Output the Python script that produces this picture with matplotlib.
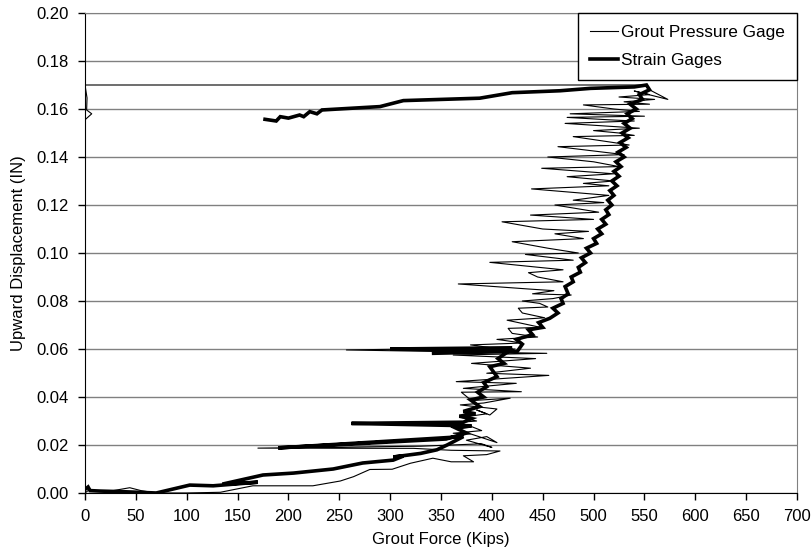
import matplotlib
matplotlib.use("Agg")
import matplotlib.pyplot as plt

plt.rcParams['font.family'] = ['Liberation Sans', 'DejaVu Sans']

# Grout pressure gage trace (force in kips, displacement in inches)
gage_force = [0, 3, 10, 25, 44, 55, 70, 100, 133, 165, 224, 251, 264, 280, 302,
              320, 342, 360, 382, 372, 395, 408, 360, 323, 170, 330, 390, 400,
              375, 395, 405, 380, 362, 390, 378, 355, 385, 370, 395, 385, 398,
              405, 369, 392, 418, 380, 370, 429, 372, 424, 365, 456, 395, 438,
              380, 443, 362, 454, 257, 400, 379, 430, 405, 445, 420, 416, 448,
              415, 452, 430, 426, 455, 447, 430, 460, 478, 440, 461, 436, 367,
              470, 445, 436, 470, 398, 480, 433, 485, 455, 420, 490, 462, 495,
              450, 410, 500, 438, 505, 462, 510, 480, 515, 439, 515, 490, 520,
              474, 520, 449, 525, 500, 455, 530, 510, 465, 535, 520, 480, 540,
              525, 500, 545, 472, 540, 515, 474, 550, 477, 545, 520, 490, 555,
              530, 560, 525, 555, 540, 573, 555, 550, 0, 2, 1.6, 6.6, 0]
gage_disp = [0.000, 0.001, 0.0008, 0.0008, 0.0022, 0.001, 0.0, 0.0, 0.0003,
             0.003, 0.003, 0.005, 0.0068, 0.0098, 0.0099, 0.0124, 0.0145, 0.013,
             0.013, 0.0155, 0.016, 0.0175, 0.0178, 0.0186, 0.0187, 0.0195,
             0.0205, 0.019, 0.022, 0.0235, 0.021, 0.0245, 0.0249, 0.026, 0.028,
             0.029, 0.030, 0.0315, 0.033, 0.0346, 0.0325, 0.035, 0.0367, 0.0375,
             0.0395, 0.0385, 0.042, 0.0422, 0.0436, 0.0457, 0.0464, 0.049,
             0.0499, 0.052, 0.054, 0.056, 0.0575, 0.0582, 0.0596, 0.0605, 0.0617,
             0.0625, 0.064, 0.065, 0.0665, 0.0686, 0.069, 0.072, 0.073, 0.075,
             0.077, 0.0775, 0.079, 0.080, 0.081, 0.0825, 0.083, 0.0843, 0.085,
             0.0871, 0.088, 0.090, 0.0918, 0.093, 0.0961, 0.097, 0.0994, 0.100,
             0.102, 0.1047, 0.106, 0.108, 0.109, 0.110, 0.113, 0.114, 0.1158,
             0.117, 0.120, 0.121, 0.122, 0.124, 0.1267, 0.128, 0.129, 0.130,
             0.1318, 0.133, 0.1353, 0.136, 0.138, 0.140, 0.141, 0.142, 0.1443,
             0.145, 0.146, 0.1485, 0.149, 0.150, 0.151, 0.152, 0.154, 0.155,
             0.1555, 0.1565, 0.157, 0.158, 0.159, 0.160, 0.1617, 0.162, 0.163,
             0.164, 0.165, 0.166, 0.1675, 0.164, 0.168, 0.170, 0.170, 0.1646,
             0.1596, 0.158, 0.1555]

# Strain gage trace
strain_force = [0, 3, 5, 15, 40, 70, 103, 126, 170, 135, 175, 205, 244, 273, 303,
                313, 303, 330, 346, 356, 372, 190, 355, 375, 365, 380, 262, 372,
                380, 368, 384, 372, 388, 379, 392, 386, 395, 392, 405, 398, 412,
                406, 418, 300, 420, 341, 425, 430, 424, 440, 436, 450, 446, 457,
                465, 460, 470, 468, 475, 472, 480, 478, 487, 485, 492, 488, 497,
                493, 503, 500, 508, 504, 512, 508, 515, 512, 518, 514, 520, 516,
                523, 518, 525, 520, 527, 522, 530, 524, 532, 526, 534, 528, 536,
                530, 538, 533, 542, 536, 548, 545, 555, 552, 540, 497, 467, 420,
                388, 313, 290, 233, 228, 221, 215, 211, 200, 192, 188, 177]
strain_disp = [0.0015, 0.0025, 0.001, 0.0008, 0.0005, 0.0, 0.0033, 0.003, 0.0045,
               0.0037, 0.0075, 0.0083, 0.010, 0.0125, 0.0137, 0.0154, 0.015,
               0.0165, 0.018, 0.020, 0.0235, 0.0188, 0.0225, 0.025, 0.027, 0.028,
               0.029, 0.0295, 0.031, 0.032, 0.033, 0.034, 0.036, 0.0388, 0.040,
               0.042, 0.0443, 0.046, 0.0485, 0.0526, 0.054, 0.056, 0.0595, 0.0600,
               0.0605, 0.0582, 0.059, 0.062, 0.064, 0.066, 0.068, 0.069, 0.071,
               0.0728, 0.075, 0.077, 0.079, 0.081, 0.083, 0.086, 0.088, 0.090,
               0.092, 0.094, 0.096, 0.098, 0.100, 0.102, 0.104, 0.106, 0.108,
               0.110, 0.112, 0.114, 0.116, 0.118, 0.120, 0.122, 0.124, 0.126,
               0.128, 0.130, 0.132, 0.134, 0.136, 0.138, 0.140, 0.142, 0.144,
               0.146, 0.148, 0.150, 0.152, 0.154, 0.156, 0.158, 0.160, 0.162,
               0.164, 0.166, 0.168, 0.170, 0.1692, 0.1686, 0.1676, 0.1668, 0.1645,
               0.1635, 0.161, 0.1596, 0.158, 0.1589, 0.1568, 0.1575, 0.1562,
               0.1568, 0.155, 0.1557]

x_ticks = list(range(0, 701, 50))
y_ticks = [0.00, 0.02, 0.04, 0.06, 0.08, 0.10, 0.12, 0.14, 0.16, 0.18, 0.20]

fig = plt.figure(figsize=(8.12, 5.56), dpi=100)
ax = fig.add_axes([85 / 812, 63 / 556, 712 / 812, 480 / 556])

ax.plot(gage_force, gage_disp, color='black', lw=0.8, label='Grout Pressure Gage')
ax.plot(strain_force, strain_disp, color='black', lw=2.6, solid_joinstyle='miter',
        label='Strain Gages')

ax.set_xlim(0, 700)
ax.set_ylim(0, 0.20)
ax.set_xticks(x_ticks)
ax.set_yticks(y_ticks)
ax.set_yticklabels([f'{v:.2f}' for v in y_ticks])
ax.yaxis.grid(True, color='#808080', lw=1.0)
ax.set_axisbelow(True)
ax.tick_params(direction='out', length=5, width=1, labelsize=12, pad=6.5,
               colors='black')

for side in ('top', 'right'):
    ax.spines[side].set_color('#808080')
for side in ('left', 'bottom'):
    ax.spines[side].set_color('black')

ax.set_xlabel('Grout Force (Kips)', fontsize=12, labelpad=6)
ax.set_ylabel('Upward Displacement (IN)', fontsize=12, labelpad=8)

leg = ax.legend(loc='upper right', bbox_to_anchor=(1.0, 1.0), fontsize=12.4,
                frameon=True, fancybox=False, edgecolor='black', framealpha=1,
                handlelength=1.6, handletextpad=0.2, labelspacing=0.75,
                borderpad=0.7, borderaxespad=0)
leg.get_frame().set_linewidth(1.0)

fig.savefig('out.png', dpi=100)
